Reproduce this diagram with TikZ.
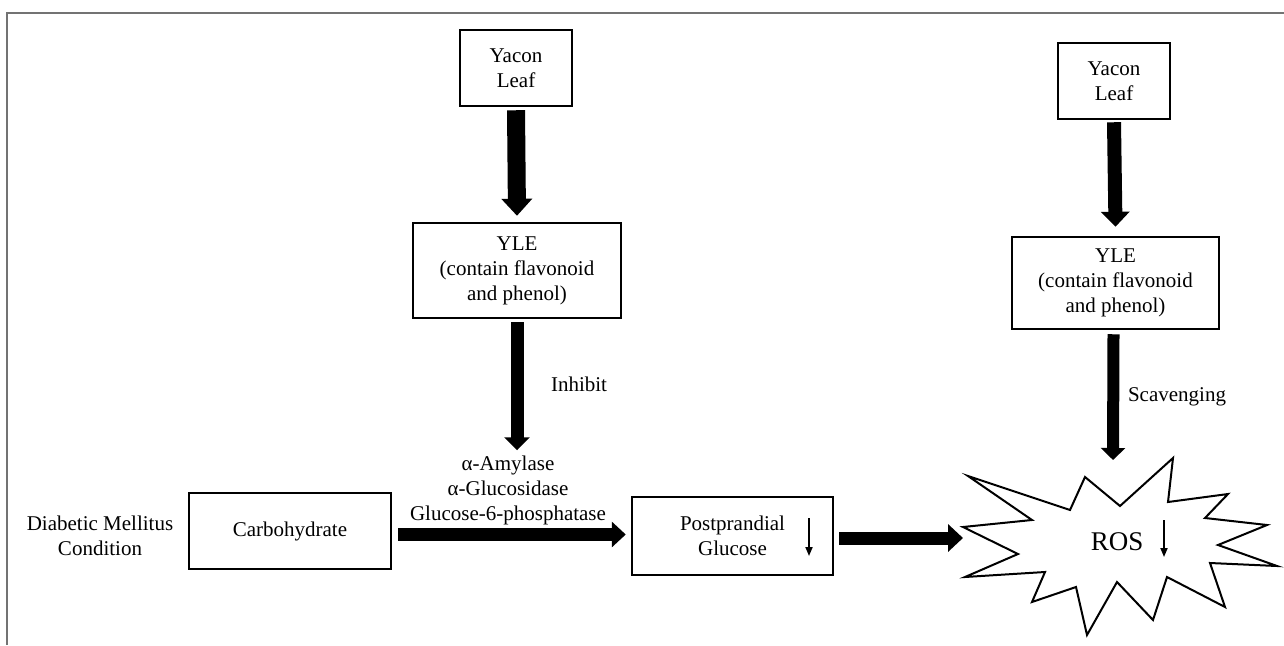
\documentclass[tikz,border=0pt]{standalone}
\usepackage{fontspec}
\setmainfont{Liberation Serif}
\usetikzlibrary{arrows.meta}
\newcommand\dfont{\fontsize{21}{25}\selectfont}
\begin{document}
\begin{tikzpicture}[x=1pt,y=-1pt,
  box/.style={draw=black, line width=2.5pt, align=center, inner sep=0pt, font=\dfont},
  lbl/.style={align=center, inner sep=0pt, font=\dfont},
  fat/.style n args={3}{line width=#1, -{Triangle[width=#2,length=#3]}},
  darr/.style={line width=1.8pt, -{Triangle[width=7pt,length=9pt]}}]
\useasboundingbox (0,0) rectangle (1284,645);
% frame
\draw[color=black!55, line width=2pt] (7,645) -- (7,13) -- (1284,13);
% nodes
\node[box, minimum width=112pt, minimum height=76pt] (yl1) at (516,68) {Yacon\\Leaf};
\node[box, minimum width=208pt, minimum height=95pt] (yle1) at (517,270.5) {YLE\\(contain flavonoid\\and phenol)};
\node[box, minimum width=112pt, minimum height=76pt] (yl2) at (1114,81) {Yacon\\Leaf};
\node[box, minimum width=207pt, minimum height=92pt] (yle2) at (1115.5,283) {YLE\\(contain flavonoid\\and phenol)};
\node[lbl] (diab) at (100,535.5) {Diabetic Mellitus\\Condition};
\node[box, minimum width=202pt, minimum height=76pt] (carb) at (290,531) {Carbohydrate};
\node[lbl] (enz) at (508,490) {α-Amylase\\α-Glucosidase\\Glucose-6-phosphatase};
\node[lbl] (inh) at (579,384) {Inhibit};
\node[box, minimum width=201pt, minimum height=78pt] (pp) at (732.5,536) {Postprandial\\Glucose};
\node[lbl] (scav) at (1177,397) {Scavenging};
% ROS star
\draw[line width=2pt, fill=white, line join=miter]
  (968,476) -- (1070,510) -- (1085,477) -- (1120,506) -- (1173,458) -- (1168,502)
  -- (1228,494) -- (1205,518) -- (1267,525) -- (1218,545) -- (1277,566) -- (1210,563)
  -- (1225,607) -- (1167,577) -- (1153,620) -- (1117,582) -- (1087,635) -- (1076,587)
  -- (1032,602) -- (1045,572) -- (965,577) -- (1018,554) -- (963,527) -- (1032,520) -- cycle;
\node[lbl, font=\fontsize{27}{30}\selectfont] (ros) at (1117,542) {ROS};
\coordinate (rosL) at (963,538);
\coordinate (rosT) at (1113,460);
% small down arrows
\coordinate (pa1) at (809,518); \coordinate (pa2) at (809,556);
\coordinate (ra1) at (1164,520); \coordinate (ra2) at (1164,557);
\draw[darr] (pa1) -- (pa2);
\draw[darr] (ra1) -- (ra2);
% block arrows
\draw[fat={18pt}{30pt}{17pt}] ([yshift=-3pt]yl1.south) -- ([yshift=6pt]yle1.north);
\draw[fat={13pt}{25pt}{13pt}] ([yshift=-3pt]yle1.south) -- ([yshift=5pt]yle1.south |- enz.north);
\draw[fat={14pt}{28pt}{15pt}] ([yshift=-2pt]yl2.south) -- ([yshift=9pt]yle2.north);
\draw[fat={12pt}{24pt}{12pt}] ([xshift=-2pt,yshift=-4pt]yle2.south) -- (rosT);
\draw[fat={13pt}{25pt}{14pt}] ([xshift=6pt,yshift=-3.5pt]carb.east) -- ([xshift=-5pt,yshift=-3.5pt]carb.east -| pp.west);
\draw[fat={13pt}{27pt}{15pt}] ([xshift=5pt,yshift=-2pt]pp.east) -- (rosL);
\end{tikzpicture}
\end{document}
